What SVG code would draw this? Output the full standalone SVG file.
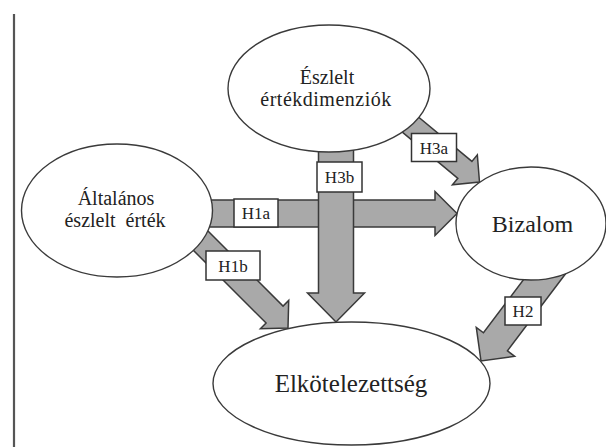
<svg xmlns="http://www.w3.org/2000/svg" width="606" height="447" viewBox="0 0 606 447">
<style>
.arrow{fill:#a9a9a9;stroke:#3a3a3a;stroke-width:1.5;stroke-linejoin:miter}
.node{fill:#ffffff;stroke:#3a3a3a;stroke-width:1.4}
.box{fill:#ffffff;stroke:#333333;stroke-width:1.5}
.t{font-family:"Liberation Serif","Times New Roman",serif;fill:#222222;text-anchor:middle}
.lbl{font-size:17px}
</style>
<rect width="606" height="447" fill="#ffffff"/>
<line x1="14" y1="14" x2="14" y2="447" stroke="#555555" stroke-width="2.2"/>
<g id="connectors">
  <polygon id="arrow-H1a" class="arrow" points="-267,-13.5 -22,-13.5 -22,-22 0,0 -22,22 -22,13.5 -267,13.5" transform="translate(457,213.5)"/>
  <polygon id="arrow-H1b" class="arrow" points="-140,-12 -19,-12 -19,-20 0,0 -19,20 -19,12 -140,12" transform="translate(288,328) rotate(45)"/>
  <polygon id="arrow-H3a" class="arrow" points="-110,-11 -19,-11 -19,-19.5 0,0 -19,19.5 -19,11 -110,11" transform="translate(479.5,182) rotate(39.7)"/>
  <polygon id="arrow-H2" class="arrow" points="-125,-15 -24,-15 -24,-24 0,0 -24,24 -24,15 -125,15" transform="translate(481,361) rotate(127)"/>
  <polygon id="arrow-H3b" class="arrow" points="-182,-17.5 -29,-17.5 -29,-28.5 0,0 -29,28.5 -29,17.5 -182,17.5" transform="translate(336,322) rotate(90)"/>
  <g id="labels">
    <rect class="box" x="234" y="199" width="44" height="28"/>
    <text class="t lbl" x="256" y="219">H1a</text>
    <rect class="box" x="317" y="162" width="45" height="30"/>
    <text class="t lbl" x="339.5" y="183">H3b</text>
    <rect class="box" x="411.5" y="133.5" width="45" height="28"/>
    <text class="t lbl" x="434" y="153.5">H3a</text>
    <rect class="box" x="206" y="251" width="54" height="29"/>
    <text class="t lbl" x="233" y="271.5">H1b</text>
    <rect class="box" x="505" y="297" width="36" height="28"/>
    <text class="t lbl" x="523" y="317">H2</text>
  </g>
</g>
<g id="node-eszlelt-ertekdimenziok">
  <ellipse class="node" cx="329" cy="88.5" rx="101" ry="63.5"/>
  <text class="t" style="font-size:20px" x="327" y="84">Észlelt</text>
  <text class="t" style="font-size:20px;letter-spacing:0.5px" x="326" y="106">értékdimenziók</text>
</g>
<g id="node-altalanos">
  <ellipse class="node" cx="117" cy="210.5" rx="95.5" ry="66.5"/>
  <text class="t" style="font-size:20px" x="116" y="205">Általános</text>
  <text class="t" style="font-size:20px;white-space:pre" x="115" y="227">észlelt  érték</text>
</g>
<g id="node-bizalom">
  <ellipse class="node" cx="531" cy="223.5" rx="75" ry="56.5"/>
  <text class="t" style="font-size:24px" x="532.5" y="232">Bizalom</text>
</g>
<g id="node-elkotelezettseg">
  <ellipse class="node" cx="351.5" cy="383.5" rx="138.5" ry="61.5"/>
  <text class="t" style="font-size:25px" x="351" y="392">Elkötelezettség</text>
</g>
</svg>
